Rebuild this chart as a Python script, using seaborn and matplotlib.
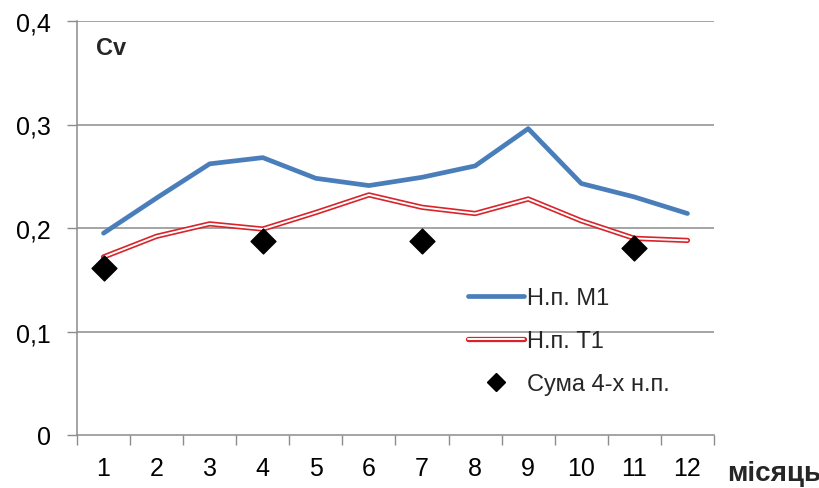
import matplotlib
matplotlib.use("Agg")
import matplotlib.pyplot as plt
import matplotlib.patheffects as pe
from matplotlib.lines import Line2D
from matplotlib.ticker import FixedLocator, FuncFormatter
import seaborn as sns
import pandas as pd

months = [1, 2, 3, 4, 5, 6, 7, 8, 9, 10, 11, 12]
cv_m1 = [0.195, 0.229, 0.262, 0.268, 0.248, 0.241, 0.249, 0.260, 0.296, 0.243, 0.230, 0.214]
cv_t1 = [0.172, 0.192, 0.204, 0.199, 0.215, 0.232, 0.220, 0.214, 0.228, 0.207, 0.190, 0.188]
sum_months = [1, 4, 7, 11]
cv_sum = [0.161, 0.187, 0.187, 0.181]
y_ticks = [0.0, 0.1, 0.2, 0.3, 0.4]
series_labels = ["Н.п. М1", "Н.п. Т1", "Сума 4-х н.п."]

sns.set_theme(style="white")
plt.rcParams["font.family"] = ["Liberation Sans", "DejaVu Sans"]

BLUE = "#4A7EBB"
RED = "#D8242A"
GRID = "#8C8C8C"

fig = plt.figure(figsize=(8.2, 4.89), dpi=100)
ax = fig.add_axes([77 / 820, 1 - 436 / 489, (714 - 77) / 820, (436 - 22) / 489])

df_m1 = pd.DataFrame({"month": months, "cv": cv_m1})
df_t1 = pd.DataFrame({"month": months, "cv": cv_t1})
df_sum = pd.DataFrame({"month": sum_months, "cv": cv_sum})

# grid lines drawn first so the series sit on top
for v in y_ticks[1:]:
    ax.axhline(v, color=GRID, lw=1.1, zorder=0)

sns.lineplot(data=df_m1, x="month", y="cv", ax=ax, color=BLUE, lw=3.4,
             solid_capstyle="round", solid_joinstyle="round", zorder=3, legend=False)

# double red line: thick red stroke with a thin white core
red_fx = [pe.Stroke(linewidth=3.8, foreground=RED), pe.Normal()]
sns.lineplot(data=df_t1, x="month", y="cv", ax=ax, color="white", lw=1.4,
             path_effects=red_fx, zorder=3, legend=False)

sns.scatterplot(data=df_sum, x="month", y="cv", ax=ax, marker="D", s=160,
                color="black", edgecolor="black", zorder=4, legend=False)

ax.set_xlim(0.5, 12.5)
ax.set_ylim(0, 0.4)

# category boundaries carry the tick marks, centres carry the labels
ax.xaxis.set_major_locator(FixedLocator([m - 0.5 for m in months] + [12.5]))
ax.xaxis.set_major_formatter(FuncFormatter(lambda v, p: ""))
ax.xaxis.set_minor_locator(FixedLocator(months))
ax.xaxis.set_minor_formatter(FuncFormatter(lambda v, p: f"{int(round(v))}"))
ax.tick_params(axis="x", which="major", length=7, width=1, color=GRID, direction="out", bottom=True)
ax.tick_params(axis="x", which="minor", length=0, pad=15, labelsize=18, labelcolor="black")


def y_fmt(v, p):
    if abs(v) < 1e-9:
        return "0"
    return f"{v:.1f}".replace(".", ",")


ax.set_yticks(y_ticks)
ax.yaxis.set_major_formatter(FuncFormatter(y_fmt))
ax.tick_params(axis="y", length=7, width=1, color=GRID, direction="out", left=True,
               pad=12, labelsize=18, labelcolor="black")

for side in ["top", "right"]:
    ax.spines[side].set_visible(False)
for side in ["left", "bottom"]:
    ax.spines[side].set_color(GRID)
    ax.spines[side].set_linewidth(1.1)

ax.set_xlabel("")
ax.set_ylabel("")

fig.text(96 / 820, 1 - 49 / 489, "Cv", fontsize=17, fontweight="bold", va="center", ha="left")
fig.text(727 / 820, 1 - 474 / 489, "місяць", fontsize=20, fontweight="bold", va="center", ha="left")

handles = [
    Line2D([0], [0], color=BLUE, lw=3.4, solid_capstyle="round"),
    Line2D([0], [0], color="white", lw=1.4, path_effects=red_fx),
    Line2D([0], [0], color="black", marker="D", ms=9, lw=0),
]
ax.legend(handles, series_labels, loc="upper left", bbox_to_anchor=(459 / 820, 1 - 279 / 489),
          bbox_transform=fig.transFigure, frameon=False, fontsize=17,
          handlelength=2.35, handletextpad=0.12, labelspacing=0.88, borderaxespad=0)

fig.savefig("out.png", dpi=100)
